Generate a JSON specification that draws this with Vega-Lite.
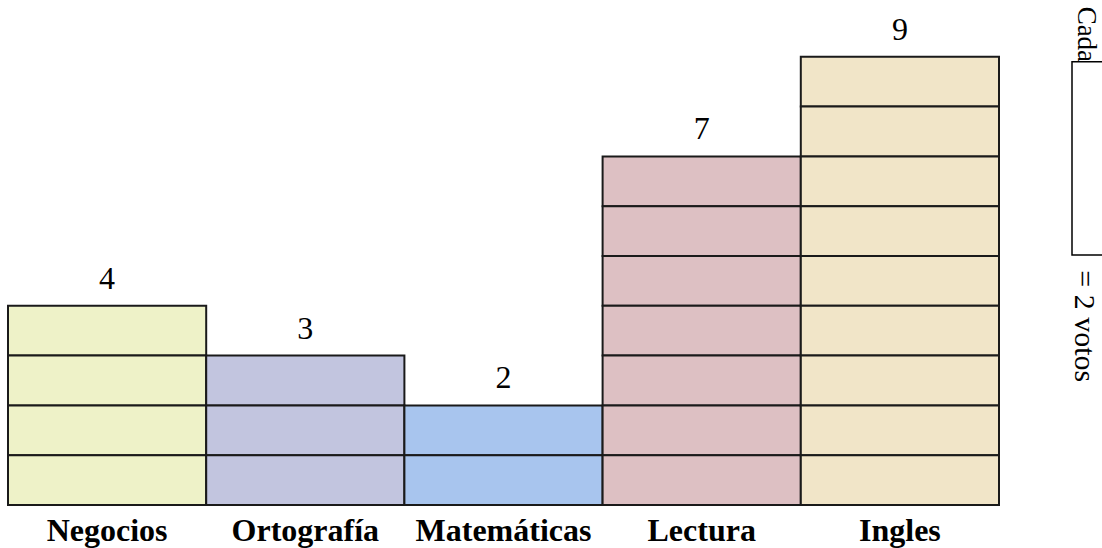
{
  "$schema": "https://vega.github.io/schema/vega-lite/v6.json",
  "width": 991,
  "height": 505,
  "autosize": "none",
  "padding": {"left": 8, "top": 0, "right": 103, "bottom": 43},
  "background": "white",
  "config": {"view": {"stroke": null}, "font": "Liberation Serif"},
  "resolve": {"scale": {"x": "independent"}},
  "layer": [
    {
      "data": {
        "values": [
          {"materia": "Negocios", "celda": 1},
          {"materia": "Negocios", "celda": 2},
          {"materia": "Negocios", "celda": 3},
          {"materia": "Negocios", "celda": 4},
          {"materia": "Ortografía", "celda": 1},
          {"materia": "Ortografía", "celda": 2},
          {"materia": "Ortografía", "celda": 3},
          {"materia": "Matemáticas", "celda": 1},
          {"materia": "Matemáticas", "celda": 2},
          {"materia": "Lectura", "celda": 1},
          {"materia": "Lectura", "celda": 2},
          {"materia": "Lectura", "celda": 3},
          {"materia": "Lectura", "celda": 4},
          {"materia": "Lectura", "celda": 5},
          {"materia": "Lectura", "celda": 6},
          {"materia": "Lectura", "celda": 7},
          {"materia": "Ingles", "celda": 1},
          {"materia": "Ingles", "celda": 2},
          {"materia": "Ingles", "celda": 3},
          {"materia": "Ingles", "celda": 4},
          {"materia": "Ingles", "celda": 5},
          {"materia": "Ingles", "celda": 6},
          {"materia": "Ingles", "celda": 7},
          {"materia": "Ingles", "celda": 8},
          {"materia": "Ingles", "celda": 9}
        ]
      },
      "layer": [
        {
          "mark": {"type": "bar", "stroke": "#1a1a1a", "strokeWidth": 2},
          "encoding": {
            "x": {
              "field": "materia",
              "type": "nominal",
              "sort": null,
              "scale": {
                "domain": ["Negocios", "Ortografía", "Matemáticas", "Lectura", "Ingles"],
                "paddingInner": 0,
                "paddingOuter": 0
              },
              "axis": {
                "title": null,
                "domain": false,
                "ticks": false,
                "grid": false,
                "labelAngle": 0,
                "labelFont": "Liberation Serif",
                "labelFontSize": 32,
                "labelFontWeight": "bold",
                "labelColor": "black",
                "labelBaseline": "alphabetic",
                "labelPadding": 35,
                "labelOverlap": false
              }
            },
            "y": {
              "aggregate": "count",
              "type": "quantitative",
              "stack": "zero",
              "scale": {"domain": [0, 10.14], "nice": false},
              "axis": null
            },
            "detail": {"field": "celda", "type": "ordinal"},
            "color": {
              "field": "materia",
              "type": "nominal",
              "scale": {
                "domain": ["Negocios", "Ortografía", "Matemáticas", "Lectura", "Ingles"],
                "range": ["#EEF2C8", "#C2C5DF", "#A8C5EE", "#DDC0C3", "#F1E5C8"]
              },
              "legend": null
            }
          }
        },
        {
          "mark": {
            "type": "text",
            "baseline": "alphabetic",
            "dy": -17,
            "fontSize": 32,
            "font": "Liberation Serif",
            "color": "black"
          },
          "encoding": {
            "x": {"field": "materia", "type": "nominal", "sort": null},
            "y": {"aggregate": "count", "type": "quantitative"},
            "text": {"aggregate": "count", "type": "quantitative"}
          }
        }
      ]
    },
    {
      "layer": [
        {
          "data": {"values": [{"clave": "cuadro"}]},
          "mark": {"type": "rect", "fill": "white", "stroke": "black", "strokeWidth": 1.5},
          "encoding": {
            "x": {
              "datum": 0,
              "type": "quantitative",
              "scale": {"domain": [0, 1], "range": [1064, 1114]},
              "axis": null
            },
            "x2": {"datum": 1},
            "y": {"datum": 5.02, "type": "quantitative"},
            "y2": {"datum": 8.9}
          }
        },
        {
          "data": {"values": [{"clave": "Cada"}]},
          "mark": {
            "type": "text",
            "angle": 90,
            "align": "center",
            "baseline": "alphabetic",
            "fontSize": 27,
            "font": "Liberation Serif",
            "color": "black"
          },
          "encoding": {
            "x": {"datum": 0.12, "type": "quantitative"},
            "y": {"datum": 9.45, "type": "quantitative"},
            "text": {"field": "clave"}
          }
        },
        {
          "data": {"values": [{"clave": "= 2 votos"}]},
          "mark": {
            "type": "text",
            "angle": 90,
            "align": "center",
            "baseline": "alphabetic",
            "fontSize": 30,
            "font": "Liberation Serif",
            "color": "black"
          },
          "encoding": {
            "x": {"datum": 0.06, "type": "quantitative"},
            "y": {"datum": 3.59, "type": "quantitative"},
            "text": {"field": "clave"}
          }
        }
      ]
    }
  ]
}
